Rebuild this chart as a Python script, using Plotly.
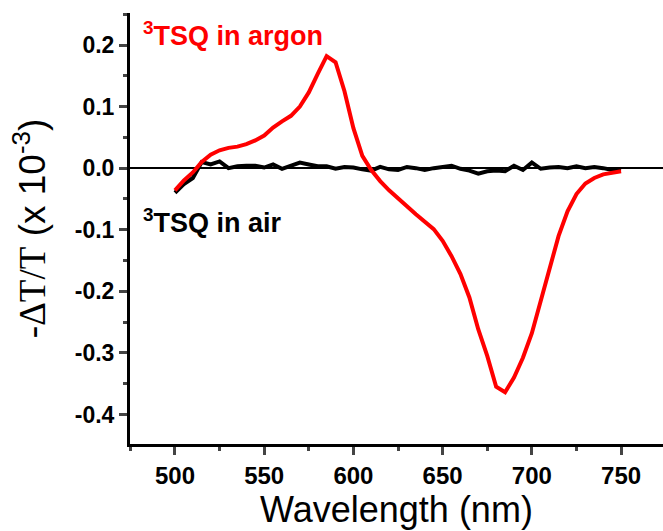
import plotly.graph_objects as go

wavelength = [500, 505, 510, 515, 520, 525, 530, 535, 540, 545, 550, 555, 560, 565, 570,
              575, 580, 585, 590, 595, 600, 605, 610, 615, 620, 625, 630, 635, 640, 645,
              650, 655, 660, 665, 670, 675, 680, 685, 690, 695, 700, 705, 710, 715, 720,
              725, 730, 735, 740, 745, 750]

argon = [-0.036, -0.020, -0.007, 0.010, 0.022, 0.029, 0.033, 0.035, 0.039, 0.045,
         0.053, 0.066, 0.076, 0.085, 0.100, 0.123, 0.153, 0.182, 0.172, 0.125,
         0.065, 0.020, -0.003, -0.021, -0.036, -0.050, -0.062, -0.075, -0.086, -0.099,
         -0.118, -0.143, -0.172, -0.210, -0.262, -0.305, -0.355, -0.364, -0.340, -0.308,
         -0.268, -0.215, -0.162, -0.110, -0.070, -0.042, -0.025, -0.016, -0.010, -0.007,
         -0.005]

air = [-0.040, -0.026, -0.016, 0.010, 0.006, 0.011, 0.000, 0.003, 0.004, 0.004,
       0.001, 0.006, -0.001, 0.004, 0.009, 0.006, 0.003, 0.003, -0.001, 0.002,
       0.001, -0.002, -0.004, 0.002, -0.002, -0.003, 0.002, 0.000, -0.003, 0.000,
       0.002, 0.004, -0.001, -0.004, -0.009, -0.005, -0.004, -0.005, 0.004, -0.003,
       0.009, -0.001, 0.001, 0.002, 0.000, 0.003, 0.000, 0.002, 0.000, -0.003,
       -0.004]

x_ticks = [500, 550, 600, 650, 700, 750]
y_ticks = [-0.4, -0.3, -0.2, -0.1, 0.0, 0.1, 0.2]
y_tick_text = ["-0.4", "-0.3", "-0.2", "-0.1", "0.0", "0.1", "0.2"]

fig = go.Figure()
fig.add_trace(go.Scatter(x=wavelength, y=air, mode="lines",
                         line=dict(color="black", width=4), showlegend=False))
fig.add_trace(go.Scatter(x=wavelength, y=argon, mode="lines",
                         line=dict(color="#ff0000", width=4), showlegend=False))

font_sans = "Arial, Liberation Sans, sans-serif"

fig.update_layout(
    width=663, height=531,
    margin=dict(l=130, r=0, t=13, b=87),
    paper_bgcolor="white", plot_bgcolor="white",
    font=dict(family=font_sans, color="black"),
    xaxis=dict(
        range=[474.8, 773.5], tickvals=x_ticks, ticks="outside", ticklen=8, tickwidth=2.5,
        showline=True, linewidth=3, linecolor="black", showgrid=False, zeroline=False,
        tickfont=dict(size=24, family=font_sans, weight="bold"),
        minor=dict(dtick=25, tick0=475, ticks="outside", ticklen=4, tickwidth=2.5,
                   showgrid=False),
        title=dict(text="Wavelength (nm)", font=dict(size=36), standoff=4),
        automargin=False,
    ),
    yaxis=dict(
        range=[-0.448, 0.252], tickvals=y_ticks, ticktext=y_tick_text, ticks="outside",
        ticklen=8, tickwidth=2.5,
        showline=True, linewidth=3, linecolor="black", showgrid=False,
        zeroline=True, zerolinecolor="black", zerolinewidth=2,
        tickfont=dict(size=23, family=font_sans, weight="bold"),
        minor=dict(dtick=0.1, tick0=0.05, ticks="outside", ticklen=4, tickwidth=2.5,
                   showgrid=False),
        title=dict(text='<span style="font-family:Liberation Serif, Times New Roman, serif">-ΔT/T</span> (x 10<sup>-3</sup>)',
                   font=dict(size=37), standoff=18),
        automargin=False,
    ),
)

fig.add_annotation(text="<b><sup>3</sup>TSQ in argon</b>", x=0.02, xref="paper", xanchor="left",
                   y=0.218, yref="y", yanchor="middle", showarrow=False,
                   font=dict(size=27, color="#ff0000", family=font_sans))
fig.add_annotation(text="<b><sup>3</sup>TSQ in air</b>", x=0.02, xref="paper", xanchor="left",
                   y=-0.085, yref="y", yanchor="middle", showarrow=False,
                   font=dict(size=27, color="black", family=font_sans))

fig.write_html("out.html")
